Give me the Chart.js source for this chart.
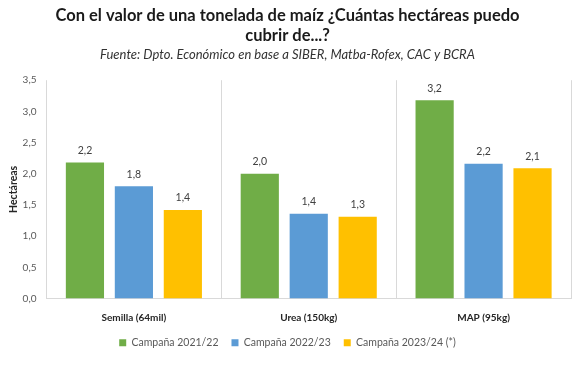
<!DOCTYPE html>
<html>
<head>
<meta charset="utf-8">
<script src="https://cdn.jsdelivr.net/npm/chart.js@4/dist/chart.umd.min.js"></script>
<style>
  body { margin: 0; background: #fff; }
  #wrap { width: 581px; height: 365px; }
</style>
</head>
<body>
<div id="wrap"><canvas id="myChart" width="581" height="365"></canvas></div>
<script>
const categories = ['Semilla (64mil)', 'Urea (150kg)', 'MAP (95kg)']
const campana2122 = [2.18, 2.0, 3.18]
const campana2223 = [1.8, 1.36, 2.16]
const campana2324 = [1.42, 1.31, 2.09]
const seriesNames = ['Campaña 2021/22', 'Campaña 2022/23', 'Campaña 2023/24 (*)']
const yTicks = [0, 0.5, 1, 1.5, 2, 2.5, 3, 3.5]

const font = 'Lato, "Open Sans", sans-serif'

// draws the value above each bar, with a comma as decimal sign
const barLabels = {
    id: 'barLabels',
    afterDatasetsDraw(chart) {
        const ctx = chart.ctx
        ctx.save()
        ctx.font = '10.5px ' + font
        ctx.fillStyle = '#404040'
        ctx.textAlign = 'center'
        ctx.textBaseline = 'middle'
        chart.data.datasets.forEach((ds, i) => {
            chart.getDatasetMeta(i).data.forEach((bar, j) => {
                const txt = ds.data[j].toFixed(1).replace('.', ',')
                ctx.fillText(txt, bar.x, bar.y - 12)
            })
        })
        ctx.restore()
    }
}

const ctx = document.getElementById('myChart').getContext('2d')
const myChart = new Chart(ctx, {
    type: 'bar',
    data: {
        labels: categories,
        datasets: [
            { label: seriesNames[0], data: campana2122, backgroundColor: '#70AD47' },
            { label: seriesNames[1], data: campana2223, backgroundColor: '#5B9BD5' },
            { label: seriesNames[2], data: campana2324, backgroundColor: '#FFC000' }
        ]
    },
    options: {
        responsive: false,
        animation: false,
        categoryPercentage: 0.84,
        barPercentage: 0.78,
        layout: { padding: { left: 4, right: 10, top: 0, bottom: 7 } },
        plugins: {
            title: {
                display: true,
                text: ['Con el valor de una tonelada de maíz ¿Cuántas hectáreas puedo', 'cubrir de...?'],
                color: '#1a1a1a',
                font: { family: font, size: 16.5, weight: 'bold', lineHeight: 1.2 },
                padding: { top: 6, bottom: 1 }
            },
            subtitle: {
                display: true,
                text: 'Fuente: Dpto. Económico en base a SIBER, Matba-Rofex, CAC y BCRA',
                color: '#333333',
                font: { family: font, size: 13, style: 'italic' },
                padding: { bottom: 18 }
            },
            legend: {
                position: 'bottom',
                labels: {
                    color: '#595959',
                    font: { family: font, size: 10.5 },
                    usePointStyle: true,
                    pointStyle: 'rect',
                    boxWidth: 7,
                    boxHeight: 7,
                    padding: 13
                }
            },
            tooltip: { enabled: false }
        },
        scales: {
            x: {
                afterFit: (axis) => { axis.height -= 12 },
                grid: {
                    offset: true,
                    drawTicks: false,
                    color: (c) => c.index === 3 ? 'rgba(0,0,0,0)' : '#d9d9d9'
                },
                border: { display: true, color: '#d9d9d9' },
                ticks: {
                    color: '#262626',
                    padding: 13,
                    font: { family: font, size: 10, weight: 'bold' }
                }
            },
            y: {
                min: 0,
                max: 3.5,
                afterBuildTicks: (axis) => { axis.ticks = yTicks.map(v => ({ value: v })) },
                afterFit: (axis) => { axis.width -= 7 },
                grid: { display: false, drawTicks: false },
                border: { display: false },
                ticks: {
                    color: '#595959',
                    padding: 10,
                    font: { family: font, size: 10 },
                    callback: (v) => v.toFixed(1).replace('.', ',')
                },
                title: {
                    display: true,
                    text: 'Hectáreas',
                    color: '#262626',
                    font: { family: font, size: 10.5, weight: 'bold' },
                    padding: { top: 3, bottom: 0 }
                }
            }
        }
    },
    plugins: [barLabels]
})
</script>
</body>
</html>
